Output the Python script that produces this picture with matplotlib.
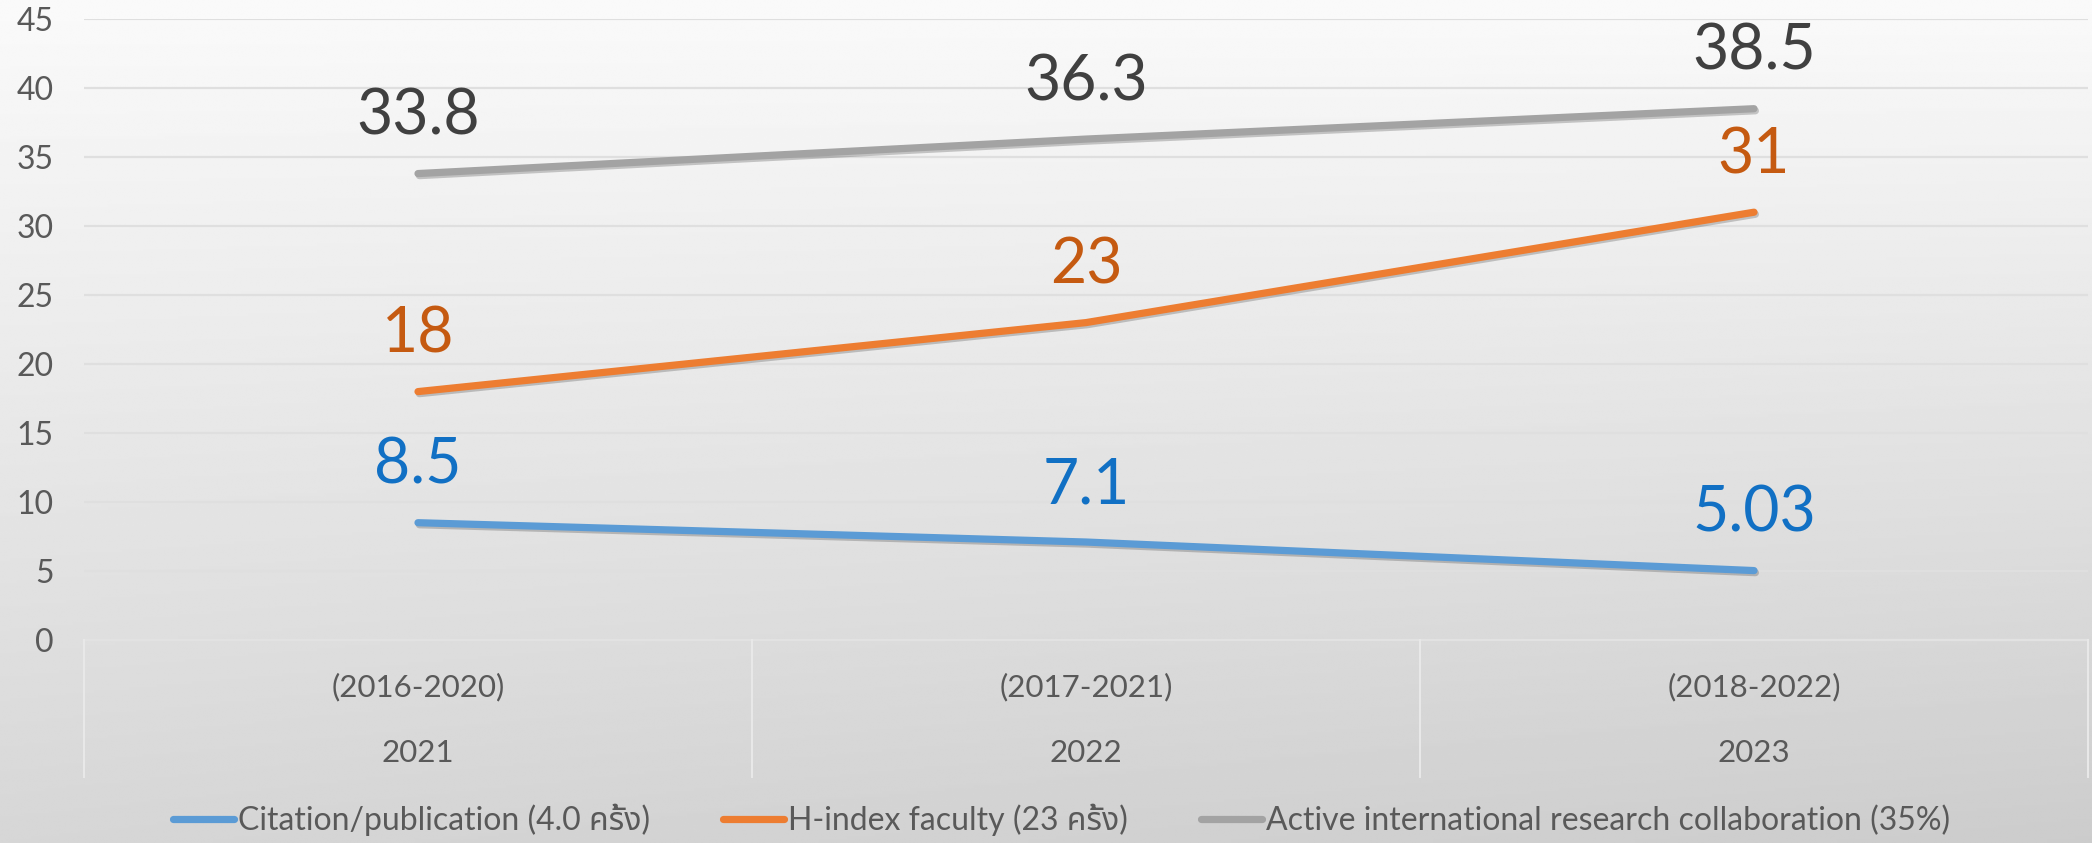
import numpy as np
import matplotlib
matplotlib.use("Agg")
import matplotlib.pyplot as plt
import matplotlib.patheffects as pe
from matplotlib.transforms import blended_transform_factory

# ---------------- data ----------------
periods = ["(2016-2020)", "(2017-2021)", "(2018-2022)"]
years = ["2021", "2022", "2023"]
citation = [8.5, 7.1, 5.03]
hindex = [18, 23, 31]
collab = [33.8, 36.3, 38.5]
series_names = [
    "Citation/publication (4.0 ครั้ง)",
    "H-index faculty (23 ครั้ง)",
    "Active international research collaboration (35%)",
]
yticks = [0, 5, 10, 15, 20, 25, 30, 35, 40, 45]

line_colors = ["#5B9BD5", "#ED7D31", "#A3A3A3"]
label_colors = ["#1170C4", "#C55A11", "#404040"]

plt.rcParams["font.family"] = [
    "Lato", "Noto Sans Thai", "Noto Sans Thai UI", "Noto Serif Thai",
    "Loma", "Garuda", "Norasi", "Tlwg Typo", "Waree", "Kinnari",
    "DejaVu Sans",
]

W, H = 2092, 843
fig = plt.figure(figsize=(W / 100, H / 100), dpi=100)

# background gradient
bg = fig.add_axes([0, 0, 1, 1], zorder=-10)
yy, xx = np.mgrid[0:1:300j, 0:1:300j]
val = 0.98 - 0.14 * yy - 0.04 * xx * yy
bg.imshow(val, cmap="gray", vmin=0, vmax=1, aspect="auto",
          extent=[0, 1, 0, 1], origin="upper", interpolation="bilinear")
bg.set_axis_off()

left, right = 84 / W, 2088 / W
bottom, top = 1 - 640 / H, 1 - 19 / H
ax = fig.add_axes([left, bottom, right - left, top - bottom])
ax.set_facecolor("none")

x = np.arange(len(years))
series = [citation, hindex, collab]
handles = []
for vals, lc, tc, name in zip(series, line_colors, label_colors, series_names):
    (ln,) = ax.plot(x, vals, color=lc, lw=5.2, solid_capstyle="round",
                    solid_joinstyle="round", label=name, zorder=3,
                    path_effects=[pe.SimpleLineShadow(offset=(1.0, -1.5),
                                                      alpha=0.2),
                                  pe.Normal()])
    handles.append(ln)
    for xi, v in zip(x, vals):
        ax.annotate(f"{v:g}", (xi, v), xytext=(0, 41),
                    textcoords="offset points", ha="center", va="center",
                    fontsize=45, color=tc, zorder=4)

ax.set_xlim(-0.5, len(years) - 0.5)
ax.set_ylim(0, 45)
ax.set_yticks(yticks)
ax.tick_params(axis="y", length=0, pad=22, labelsize=23, labelcolor="#595959")
ax.set_xticks([])
for s in ax.spines.values():
    s.set_visible(False)
ax.yaxis.grid(True, color="#DFDFDF", lw=1.6)
ax.set_axisbelow(True)

# category axis box
trans = blended_transform_factory(ax.transData, ax.transAxes)
box_bottom = -0.2206
ax.plot([-0.5, len(years) - 0.5], [0, 0], transform=trans, color="#E2E2E2",
        lw=1.6, clip_on=False, zorder=2)
for sx in np.arange(-0.5, len(years), 1.0):
    ax.plot([sx, sx], [0, box_bottom], transform=trans, color="#E9E9E9",
            lw=1.4, clip_on=False)
for xi, p, yv in zip(x, periods, years):
    ax.text(xi, -0.0757, p, transform=trans, ha="center", va="center",
            fontsize=22.5, color="#595959")
    ax.text(xi, -0.182, yv, transform=trans, ha="center", va="center",
            fontsize=22.5, color="#595959")

leg = fig.legend(handles=handles, loc="center", bbox_to_anchor=(0.5075, 0.027),
                 ncol=3, frameon=False, fontsize=23, handlelength=1.9,
                 handletextpad=0.12, columnspacing=2.3, labelcolor="#595959")
for lh in leg.legend_handles:
    lh.set_path_effects([])
    lh.set_linewidth(5.2)

fig.savefig("out.png", dpi=100)
